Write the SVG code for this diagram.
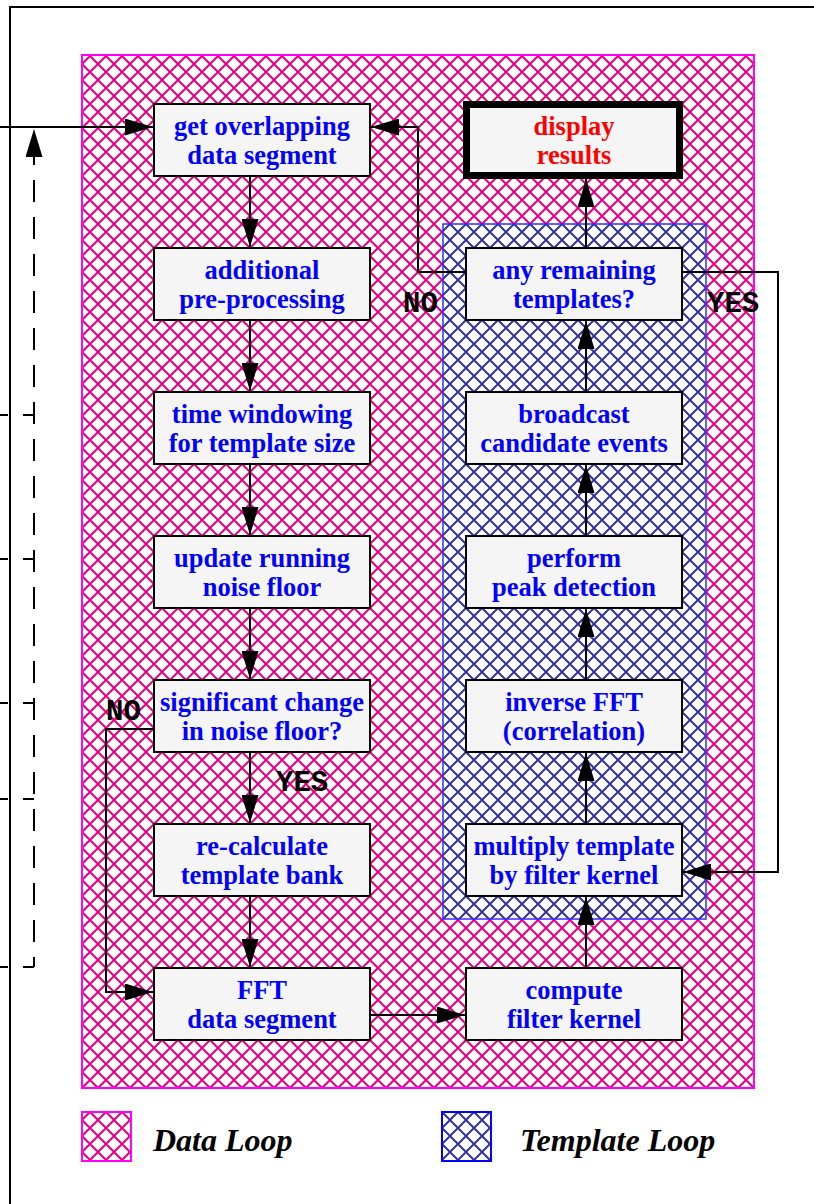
<svg xmlns="http://www.w3.org/2000/svg" width="814" height="1204" viewBox="0 0 814 1204">
<defs>
<pattern id="pinkHatch" patternUnits="userSpaceOnUse" width="16" height="16" x="2" y="0">
<path d="M0,0 L16,16 M-4,12 L4,20 M12,-4 L20,4 M0,16 L16,0 M-4,4 L4,-4 M12,20 L20,12" stroke="#e6007e" stroke-width="2" fill="none"/>
</pattern>
<pattern id="blueHatch" patternUnits="userSpaceOnUse" width="16" height="16" x="2" y="0">
<path d="M0,0 L16,16 M-4,12 L4,20 M12,-4 L20,4 M0,16 L16,0 M-4,4 L4,-4 M12,20 L20,12" stroke="#333399" stroke-width="2" fill="none"/>
</pattern>
<marker id="arrow" markerUnits="userSpaceOnUse" viewBox="0 0 28 17" refX="28" refY="8.5" markerWidth="28" markerHeight="17" orient="auto">
<path d="M0,0 L28,8.5 L0,17 z" fill="#000"/>
</marker>
</defs>
<style>
.box{fill:#f5f5f5;stroke:#000;stroke-width:2}
.lbl{font-family:"Liberation Serif","Times New Roman",serif;font-weight:bold;font-size:26.5px;fill:#0000ff;text-anchor:middle}
.red{fill:#ff0000}
.conn{fill:none;stroke:#000;stroke-width:2}
.yn{font-family:"Courier New","Liberation Mono",monospace;font-weight:bold;font-size:29px;fill:#000}
.leg{font-family:"Liberation Serif","Times New Roman",serif;font-weight:bold;font-style:italic;font-size:32px;fill:#000}
</style>
<rect width="814" height="1204" fill="#fff"/>
<!-- outer frame -->
<path d="M10,1204 V7 H814" class="conn"/>
<!-- regions -->
<g id="data-loop-region">
<rect x="82" y="55" width="672" height="1033" fill="url(#pinkHatch)" stroke="#ff00ff" stroke-width="2"/>
</g>
<g id="template-loop-region">
<rect x="443" y="224" width="263" height="695" fill="#fff"/>
<rect x="443" y="224" width="263" height="695" fill="url(#blueHatch)" stroke="#3030ff" stroke-width="1.5"/>
</g>
<!-- connectors -->
<g id="connectors">
<path d="M0,127 H153" class="conn" marker-end="url(#arrow)"/>
<path d="M34,967 V129" class="conn" stroke-dasharray="22 15" stroke-dashoffset="12" marker-end="url(#arrow)"/>
<path d="M0,415 H8 M23,415 H34 M0,559 H8 M23,559 H34 M0,703 H8 M23,703 H34 M0,799 H8 M23,799 H34 M0,967 H8 M23,967 H34" class="conn"/>
<path d="M250,176 V247" class="conn" marker-end="url(#arrow)"/>
<path d="M250,320 V391" class="conn" marker-end="url(#arrow)"/>
<path d="M250,464 V535" class="conn" marker-end="url(#arrow)"/>
<path d="M250,608 V679" class="conn" marker-end="url(#arrow)"/>
<path d="M250,752 V823" class="conn" marker-end="url(#arrow)"/>
<path d="M250,896 V967" class="conn" marker-end="url(#arrow)"/>
<path d="M154,729 H106 V992 H153" class="conn" marker-end="url(#arrow)"/>
<path d="M370,1015 H465" class="conn" marker-end="url(#arrow)"/>
<path d="M586,968 V897" class="conn" marker-end="url(#arrow)"/>
<path d="M586,824 V753" class="conn" marker-end="url(#arrow)"/>
<path d="M586,680 V609" class="conn" marker-end="url(#arrow)"/>
<path d="M586,536 V465" class="conn" marker-end="url(#arrow)"/>
<path d="M586,392 V321" class="conn" marker-end="url(#arrow)"/>
<path d="M586,248 V179" class="conn" marker-end="url(#arrow)"/>
<path d="M466,272 H418 V127 H371" class="conn" marker-end="url(#arrow)"/>
<path d="M682,272 H778 V872 H683" class="conn" marker-end="url(#arrow)"/>
<text class="yn" x="106" y="720">NO</text>
<text class="yn" x="276" y="791">YES</text>
<text class="yn" x="403" y="312">NO</text>
<text class="yn" x="707" y="312">YES</text>
</g>
<!-- left column nodes -->
<g id="get-segment"><rect class="box" x="154" y="104" width="216" height="72"/><text class="lbl" x="262" y="135">get overlapping</text><text class="lbl" x="262" y="164">data segment</text></g>
<g id="pre-processing"><rect class="box" x="154" y="248" width="216" height="72"/><text class="lbl" x="262" y="279">additional</text><text class="lbl" x="262" y="308">pre-processing</text></g>
<g id="time-windowing"><rect class="box" x="154" y="392" width="216" height="72"/><text class="lbl" x="262" y="423">time windowing</text><text class="lbl" x="262" y="452">for template size</text></g>
<g id="noise-floor"><rect class="box" x="154" y="536" width="216" height="72"/><text class="lbl" x="262" y="567">update running</text><text class="lbl" x="262" y="596">noise floor</text></g>
<g id="significant-change"><rect class="box" x="154" y="680" width="216" height="72"/><text class="lbl" x="262" y="711">significant change</text><text class="lbl" x="262" y="740">in noise floor?</text></g>
<g id="recalc-bank"><rect class="box" x="154" y="824" width="216" height="72"/><text class="lbl" x="262" y="855">re-calculate</text><text class="lbl" x="262" y="884">template bank</text></g>
<g id="fft-segment"><rect class="box" x="154" y="968" width="216" height="72"/><text class="lbl" x="262" y="999">FFT</text><text class="lbl" x="262" y="1028">data segment</text></g>
<!-- right column nodes -->
<g id="display-results"><rect x="466.5" y="104.5" width="213" height="71" fill="#f5f5f5" stroke="#000" stroke-width="7"/><text class="lbl red" x="574" y="135">display</text><text class="lbl red" x="574" y="164">results</text></g>
<g id="remaining-templates"><rect class="box" x="466" y="248" width="216" height="72"/><text class="lbl" x="574" y="279">any remaining</text><text class="lbl" x="574" y="308">templates?</text></g>
<g id="broadcast"><rect class="box" x="466" y="392" width="216" height="72"/><text class="lbl" x="574" y="423">broadcast</text><text class="lbl" x="574" y="452">candidate events</text></g>
<g id="peak-detection"><rect class="box" x="466" y="536" width="216" height="72"/><text class="lbl" x="574" y="567">perform</text><text class="lbl" x="574" y="596">peak detection</text></g>
<g id="inverse-fft"><rect class="box" x="466" y="680" width="216" height="72"/><text class="lbl" x="574" y="711">inverse FFT</text><text class="lbl" x="574" y="740">(correlation)</text></g>
<g id="multiply-template"><rect class="box" x="466" y="824" width="216" height="72"/><text class="lbl" x="574" y="855">multiply template</text><text class="lbl" x="574" y="884">by filter kernel</text></g>
<g id="filter-kernel"><rect class="box" x="466" y="968" width="216" height="72"/><text class="lbl" x="574" y="999">compute</text><text class="lbl" x="574" y="1028">filter kernel</text></g>
<!-- legend -->
<g id="legend-data"><rect x="82" y="1112" width="49" height="49" fill="url(#pinkHatch)" stroke="#ff00ff" stroke-width="2"/><text class="leg" x="153" y="1151">Data Loop</text></g>
<g id="legend-template"><rect x="442" y="1112" width="49" height="49" fill="url(#blueHatch)" stroke="#0000ff" stroke-width="2"/><text class="leg" x="520" y="1151">Template Loop</text></g>
</svg>
